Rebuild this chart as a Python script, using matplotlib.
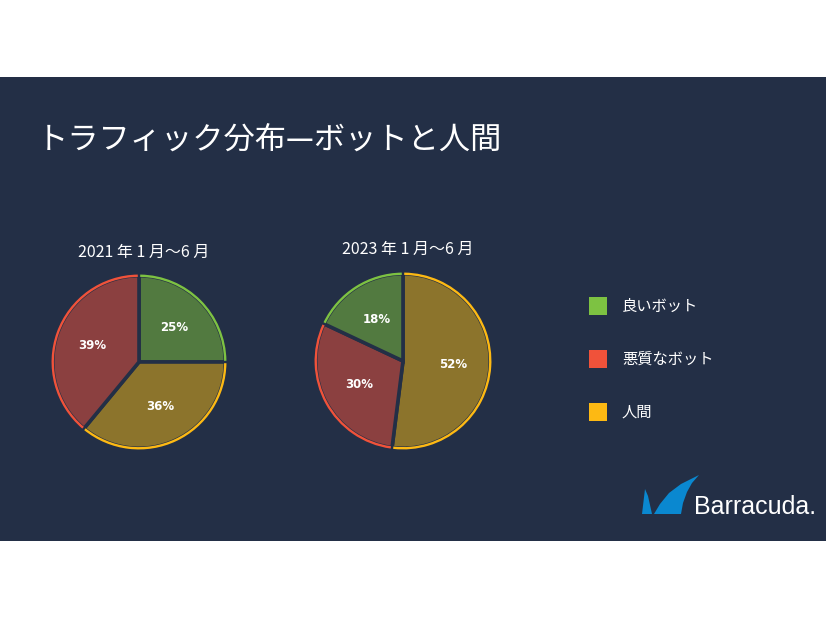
import matplotlib
matplotlib.use("Agg")
import matplotlib.pyplot as plt
from matplotlib.patches import Arc, Rectangle, Polygon

plt.rcParams['font.family'] = ['Noto Sans CJK JP', 'DejaVu Sans']

# data
title = "トラフィック分布—ボットと人間"
periods = ["2021 年 1 月～6 月", "2023 年 1 月～6 月"]
categories = ["良いボット", "悪質なボット", "人間"]
share_2021 = [25, 36, 39]          # good, human, bad (clockwise from top)
order_2021 = [0, 2, 1]
share_2023 = [52, 30, 18]          # human, bad, good
order_2023 = [2, 1, 0]

bg = "#232f46"
face_cols = ["#527a40", "#8b4040", "#8c742c"]
edge_cols = ["#7dc242", "#f0523a", "#fdb913"]

W, H = 826, 620
fig = plt.figure(figsize=(W / 100, H / 100), dpi=100, facecolor="white")

# background / overlay axes in pixel coordinates
base = fig.add_axes([0, 0, 1, 1])
base.set_xlim(0, W)
base.set_ylim(H, 0)
base.axis("off")
base.add_patch(Rectangle((0, 77), W, 464, color=bg, lw=0))

base.text(37, 141, title, color="white", fontsize=22.5, va="center", ha="left")

base.text(144, 252, periods[0], color="white", fontsize=11.5, ha="center", va="center")
base.text(408, 249, periods[1], color="white", fontsize=11.5, ha="center", va="center")

# legend
for i, lab in enumerate(categories):
    y = 306 + i * 53
    base.add_patch(Rectangle((589, y - 9), 18, 18, color=edge_cols[i], lw=0))
    base.text(622, y, lab, color="white", fontsize=11, va="center", ha="left")

# logo
blue = "#0a88d0"
base.add_patch(Polygon([(642, 514), (645, 489), (648, 496), (652, 514)], color=blue, lw=0))
base.add_patch(Polygon([(654, 514), (660, 504), (669, 493), (681, 484), (699, 475),
                        (692, 483), (687, 492), (683, 503), (681, 514)], color=blue, lw=0))
base.text(694, 514, "Barracuda.", color="white", fontsize=18, family="Liberation Sans",
          ha="left", va="baseline")


def draw_pie(cx, cy, r, vals, order):
    ax = fig.add_axes([(cx - r) / W, (H - cy - r) / H, 2 * r / W, 2 * r / H])
    ax.set_facecolor(bg)
    wedges, _, autotexts = ax.pie(
        vals, startangle=90, counterclock=False,
        colors=[face_cols[k] for k in order],
        autopct=lambda p: f"{p:.0f}%", pctdistance=0.57,
        wedgeprops=dict(edgecolor=bg, linewidth=2.6),
        textprops=dict(color="white", fontsize=8.5, fontweight="bold", family="DejaVu Sans"))
    for w, k in zip(wedges, order):
        ax.add_patch(Arc((0, 0), 2, 2, theta1=w.theta1 + 0.8, theta2=w.theta2 - 0.8,
                         color=edge_cols[k], lw=1.7))
    ax.set_xlim(-1.02, 1.02)
    ax.set_ylim(-1.02, 1.02)
    ax.axis("off")


draw_pie(139, 362, 88, share_2021, order_2021)
draw_pie(403, 361, 89, share_2023, order_2023)

fig.savefig("out.png", dpi=100, facecolor="white")
